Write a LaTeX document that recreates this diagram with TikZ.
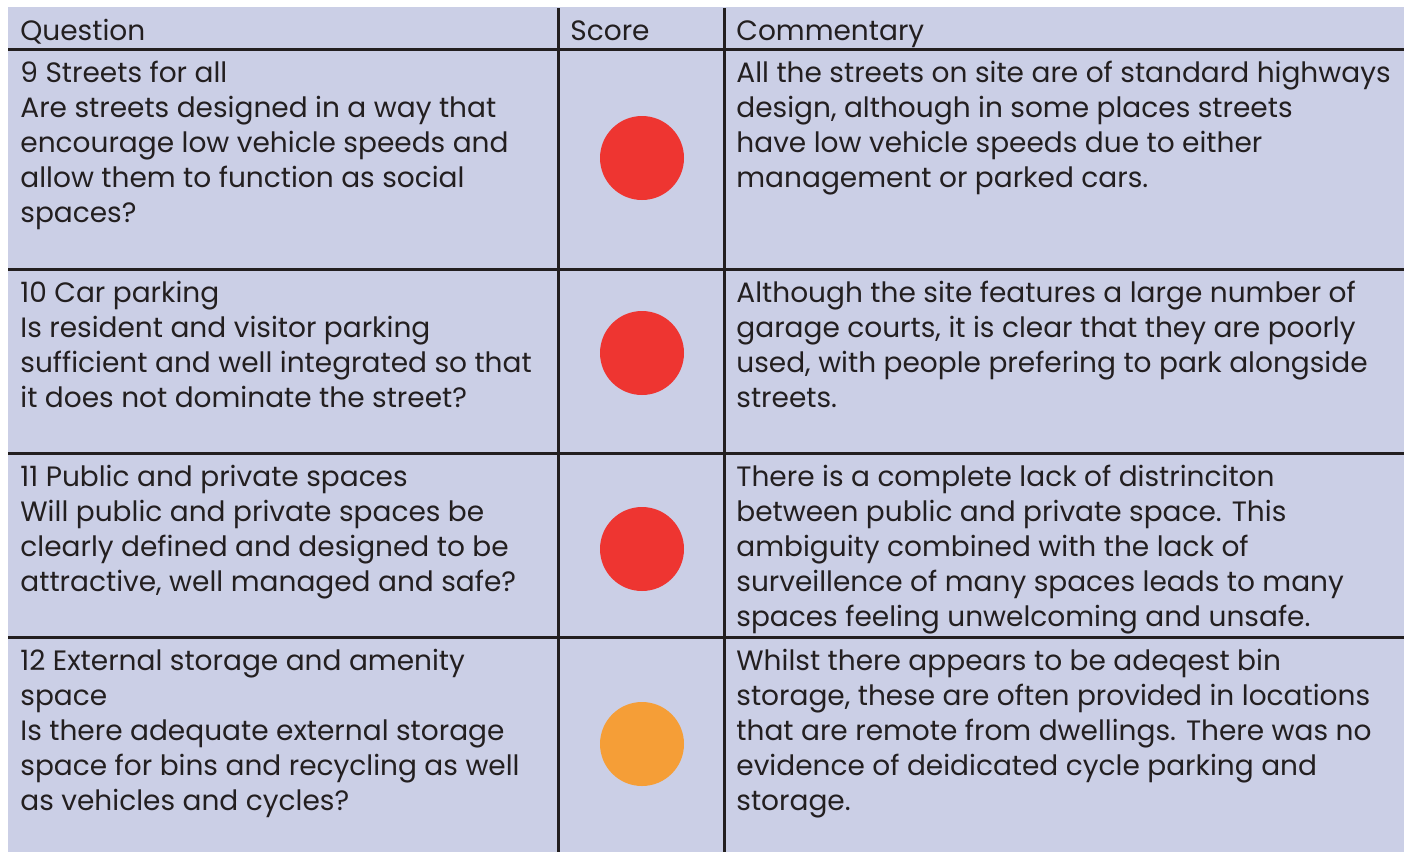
\documentclass[tikz,border=0pt]{standalone}
\usepackage{fontspec}
\setmainfont{Poppins}
\definecolor{panel}{HTML}{CBCFE6}
\definecolor{ink}{HTML}{231F20}
\definecolor{scorered}{HTML}{EE3531}
\definecolor{scoreamber}{HTML}{F59E37}
\tikzset{
  cell/.style={anchor=north west, inner sep=0pt, align=left, text=ink,
    font=\fontsize{14}{17.5}\selectfont, execute at begin node=\strut},
  rule/.style={draw=ink, line width=1.5pt},
  score/.style={circle, minimum size=42pt, inner sep=0pt}
}
\begin{document}
\begin{tikzpicture}[x=0.5pt,y=-0.5pt]
  \useasboundingbox (0,0) rectangle (1408,852);
  \fill[panel] (8,7) rectangle (1404,852);

  % grid
  \draw[rule] (8,49) -- (1404,49);
  \draw[rule] (8,269) -- (1404,269);
  \draw[rule] (8,453) -- (1404,453);
  \draw[rule] (8,637) -- (1404,637);
  \draw[rule] (558,8) -- (558,852);
  \draw[rule] (724,8) -- (724,852);

  % header (strut top sits 24.5 above the baseline)
  \node[cell] (hq) at (20,16) {Question};
  \node[cell] (hs) at (570,16) {Score};
  \node[cell] (hc) at (736,16) {Commentary};

  % row 9
  \node[cell] (q9) at (20,60.5) {9 Streets for all\\Are streets designed in a way that\\encourage low vehicle speeds and\\allow them to function as social\\spaces?};
  \node[score, fill=scorered] (s9) at (642,158) {};
  \node[cell] (c9) at (736,60.5) {All the streets on site are of standard highways\\design, although in some places streets\\have low vehicle speeds due to either\\management or parked cars.};

  % row 10
  \node[cell] (q10) at (20,280.5) {10 Car parking\\Is resident and visitor parking\\sufficient and well integrated so that\\it does not dominate the street?};
  \node[score, fill=scorered] (s10) at (642,353) {};
  \node[cell] (c10) at (736,280.5) {Although the site features a large number of\\garage courts, it is clear that they are poorly\\used, with people prefering to park alongside\\streets.};

  % row 11
  \node[cell] (q11) at (20,464.5) {11 Public and private spaces\\Will public and private spaces be\\clearly defined and designed to be\\attractive, well managed and safe?};
  \node[score, fill=scorered] (s11) at (642,549) {};
  \node[cell] (c11) at (736,464.5) {There is a complete lack of distrinciton\\between public and private space. This\\ambiguity combined with the lack of\\surveillence of many spaces leads to many\\spaces feeling unwelcoming and unsafe.};

  % row 12
  \node[cell] (q12) at (20,648.5) {12 External storage and amenity\\space\\Is there adequate external storage\\space for bins and recycling as well\\as vehicles and cycles?};
  \node[score, fill=scoreamber] (s12) at (642,744) {};
  \node[cell] (c12) at (736,648.5) {Whilst there appears to be adeqest bin\\storage, these are often provided in locations\\that are remote from dwellings. There was no\\evidence of deidicated cycle parking and\\storage.};
\end{tikzpicture}
\end{document}
